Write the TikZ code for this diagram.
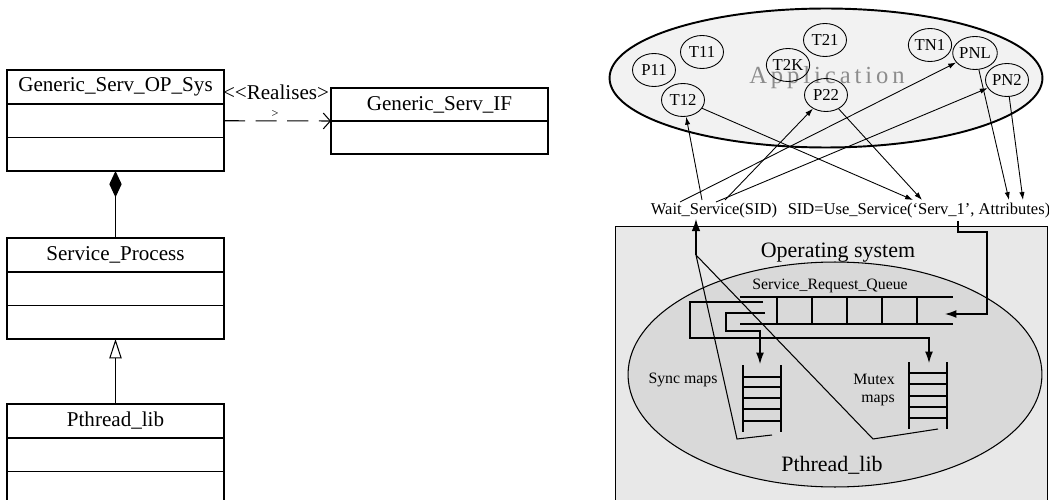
\documentclass[tikz,border=0pt]{standalone}
\usepackage{fontspec}
\setmainfont{Liberation Serif}
\usetikzlibrary{arrows.meta,positioning,shapes.geometric}

\tikzset{
  umlhead/.style={draw, line width=0.6pt, minimum width=4.34cm, minimum height=0.68cm,
    inner sep=0pt, outer sep=0pt, font=\fontsize{12}{14}\selectfont},
  umlpart/.style={umlhead, minimum height=0.67cm},
  ifhead/.style={umlhead, minimum height=0.66cm},
  thread/.style={draw, ellipse, line width=0.5pt, minimum width=0.86cm, minimum height=0.66cm,
    inner sep=0pt, font=\fontsize{9.5}{11}\selectfont},
  call/.style={line width=0.5pt, -{Latex[length=4.5pt,width=3pt]}},
  qline/.style={line width=0.6pt},
  qarrow/.style={qline, -{Latex[length=6.5pt,width=4.5pt]}},
  small/.style={font=\fontsize{9}{10.5}\selectfont, inner sep=0pt},
  big/.style={font=\fontsize{12.5}{14}\selectfont, inner sep=0pt}
}

\begin{document}
\begin{tikzpicture}[x=0.02cm, y=-0.02cm]
\useasboundingbox (0,0) rectangle (1049,500);

\node[umlhead] (gos) at (115.5,87) {Generic\_Serv\_OP\_Sys};
\node[umlpart, below=0pt of gos] (gosa) {};
\node[umlpart, below=0pt of gosa] (gosb) {};
\node[ifhead] (gif) at (439.5,104.5) {Generic\_Serv\_IF};
\node[ifhead, below=0pt of gif] (gifa) {};
\node[font=\fontsize{12}{14}\selectfont, inner sep=0pt] (real) at (276,92) {\textless\kern0pt\textless Realises\textgreater};
\draw[line width=0.6pt, dash pattern=on 12pt off 6pt, -{Straight Barb[length=4pt,width=9pt]}] (gosa.east) -- (gif.south west);
\node[font=\fontsize{7}{8}\selectfont, inner sep=0pt] (mark) at (275,114) {\textgreater};

\node[umlhead] (spr) at (115.5,255) {Service\_Process};
\node[umlpart, below=0pt of spr] (spra) {};
\node[umlpart, below=0pt of spra] (sprb) {};
\draw[line width=0.6pt, -{Diamond[length=15pt,width=7pt]}] (spr.north) -- (gosb.south);

\node[umlhead] (plib) at (115.5,421) {Pthread\_lib};
\node[umlpart, below=0pt of plib] (pliba) {};
\node[umlpart, below=0pt of pliba] (plibb) {};
\draw[line width=0.6pt, -{Triangle[open,length=11pt,width=7pt]}] (plib.north) -- (sprb.south);

\draw[line width=0.5pt, fill=black!9] (615,226) rectangle (1047,520);
\draw[line width=0.6pt, fill=black!15] (835,374.5) ellipse [x radius=4.14cm, y radius=2.25cm];
\node[big] (os) at (838,253) {Operating system};
\node[big] (pt) at (832,465) {Pthread\_lib};
\node[small] (srq) at (830,286) {Service\_Request\_Queue};
\node[small] (sync) at (683,380) {Sync maps};
\node[small, align=right, anchor=east] (mutex) at (895,390) {Mutex\\maps};

\draw[qline] (740,297) -- (953,297);
\draw[qline] (740,324) -- (953,324);
\foreach \x in {777,812,847,882,917} \draw[qline] (\x,297) -- (\x,324);
\draw[qline] (743,365) -- (743,432) (781,365) -- (781,432);
\foreach \y in {377,387,398,409,421} \draw[qline] (743,\y) -- (781,\y);
\draw[qline] (909,362) -- (909,429) (947,362) -- (947,429);
\foreach \y in {373,384,396,407,418} \draw[qline] (909,\y) -- (947,\y);
\draw[qarrow] (763,302) -- (690,302) -- (690,338) -- (929,338) -- (929,363);
\draw[qarrow] (765,313) -- (726,313) -- (726,331) -- (760,331) -- (760,364);

\draw[line width=1.1pt, fill=black!5] (826,78) ellipse [x radius=4.33cm, y radius=1.39cm];
\node[font=\fontsize{14}{16}\selectfont\addfontfeature{LetterSpace=16}, text=black!45] (app) at (827,78) {Application};
\node[thread] (P11) at (654,70) {P11};
\node[thread] (T11) at (702,52) {T11};
\node[thread] (T12) at (683,100) {T12};
\node[thread] (T2K) at (788,65) {T2K};
\node[thread] (T21) at (825,40) {T21};
\node[thread] (P22) at (826,95) {P22};
\node[thread] (TN1) at (930,45) {TN1};
\node[thread] (PNL) at (975,53) {PNL};
\node[thread] (PN2) at (1007,80) {PN2};

\node[small, font=\fontsize{9.4}{11}\selectfont] (wait) at (714,211) {Wait\_Service(SID)};
\node[small, font=\fontsize{9.4}{11}\selectfont] (use) at (919,211) {SID=Use\_Service(`Serv\_1', Attributes)};
\coordinate (w1) at (680,202);
\coordinate (w2) at (702,200);
\coordinate (w3) at (716,202);
\coordinate (w4) at (725,200);
\coordinate (u1) at (913,200);
\coordinate (u2) at (922,200);
\coordinate (u3) at (1009,200);
\coordinate (u4) at (1023,200);
\coordinate (u5) at (958,221);
\coordinate (peak) at (696,255);
\draw[call] (w1) -- (PNL);
\draw[call] (w2) -- (T12);
\draw[call] (w3) -- (PN2);
\draw[call] (w4) -- (P22);
\draw[call] (T12) -- (u1);
\draw[call] (P22) -- (u2);
\draw[call] (PNL) -- (u3);
\draw[call] (PN2) -- (u4);
\draw[qarrow] (u5) -- (958,232) -- (987,232) -- (987,314) -- (945,314);
\draw[qline] (772,435) -- (737,439) -- (peak) -- (873,439) -- (938,429);
\draw[line width=1pt, -{Latex[length=7pt,width=5pt]}] (peak) -- (wait.south -| peak);
\end{tikzpicture}
\end{document}
